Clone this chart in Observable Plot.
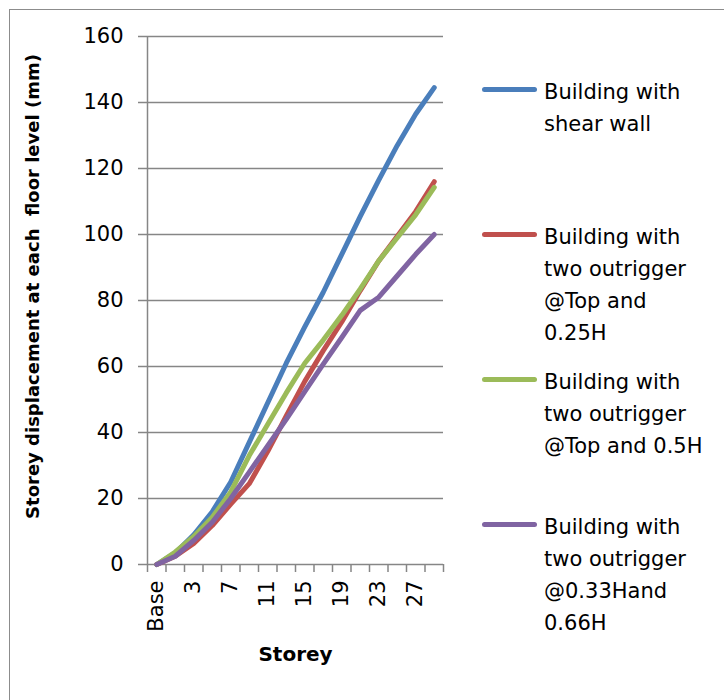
<!DOCTYPE html>
<html>
<head>
<meta charset="utf-8">
<script src="https://cdn.jsdelivr.net/npm/d3@7"></script>
<script src="https://cdn.jsdelivr.net/npm/@observablehq/plot@0.6"></script>
<style>
  html, body { margin: 0; padding: 0; background: #fff; }
  #wrap { position: relative; width: 724px; height: 700px; overflow: hidden; font-family: "DejaVu Sans", sans-serif; }
  #frame { position: absolute; left: 9px; top: 9px; width: 740px; height: 720px; border: 1.5px solid #8c8c8c; box-sizing: border-box; }
  #chart { position: absolute; left: 0; top: 0; }
  .lg-sw { position: absolute; height: 5px; border-radius: 3px; }
  .lg-tx { position: absolute; font-size: 21px; line-height: 32px; color: #000; white-space: nowrap; }
</style>
</head>
<body>
<div id="wrap">
  <div id="frame"></div>
  <div id="chart"></div>
</div>
<script>
// ---- data ----
const categories = ["Base","1","3","5","7","9","11","13","15","17","19","21","23","25","27","29"];
const seriesNames = [
  "Building with shear wall",
  "Building with two outrigger @Top and 0.25H",
  "Building with two outrigger @Top and 0.5H",
  "Building with two outrigger @0.33Hand 0.66H"
];
const legendLines = [
  ["Building with", "shear wall"],
  ["Building with", "two outrigger", "@Top and", "0.25H"],
  ["Building with", "two outrigger", "@Top and 0.5H"],
  ["Building with", "two outrigger", "@0.33Hand", "0.66H"]
];
const seriesColors = ["#4a7ebb", "#c0504d", "#9bbb59", "#8064a2"];
const shearWall   = [0, 3.5, 9,   16,   25,   37,   49,   61,   72,   82.5, 94,   105.5, 116.5, 127,  136.5, 144.5];
const outTop025   = [0, 2.5, 6.4, 11.8, 18.3, 24.5, 34.3, 45,   55.5, 64.8, 73.5, 83,    92,    99.5, 107,   116];
const outTop05    = [0, 3.8, 8.5, 14.3, 22,   33,   42.5, 52,   61,   68,   75.5, 83.5,  92,    99,   106,   114.3];
const out033066   = [0, 2.5, 7.3, 12.8, 20,   28,   36,   44,   52.4, 60.7, 68.8, 77,    81,    87.5, 94,    100];
const yTicks = [0, 20, 40, 60, 80, 100, 120, 140, 160];
const xLabelIdx = [0, 2, 4, 6, 8, 10, 12, 14];
const yTitle = "Storey displacement at each  floor level (mm)";
const xTitle = "Storey";

const allValues = [shearWall, outTop025, outTop05, out033066];
const rows = allValues.flatMap((vals, s) => vals.map((v, i) => ({ i, v, name: seriesNames[s] })));
const boundaries = d3.range(categories.length + 1).map(k => k - 0.5);

const grid = "#868686";
const chart = Plot.plot({
  width: 724,
  height: 700,
  marginLeft: 147,
  marginRight: 281,
  marginTop: 36,
  marginBottom: 136,
  style: { fontFamily: "DejaVu Sans, sans-serif", fontSize: "21px", color: "#000", background: "transparent" },
  x: { domain: [-0.5, categories.length - 0.5], axis: null },
  y: { domain: [0, 160], axis: null },
  color: { domain: seriesNames, range: seriesColors },
  marks: [
    Plot.ruleY(yTicks, { stroke: grid, strokeWidth: 1.5 }),
    Plot.ruleX([-0.5], { stroke: grid, strokeWidth: 1.5 }),
    Plot.axisY({ ticks: yTicks, tickSize: 9, tickPadding: 15, label: null, stroke: grid, strokeWidth: 1.5, fill: "#000", fontSize: 21 }),
    Plot.axisX({ ticks: boundaries, tickSize: 8, tickFormat: () => "", label: null, stroke: grid, strokeWidth: 1.5 }),
    Plot.axisX({ ticks: xLabelIdx, tickSize: 0, tickPadding: 16, tickRotate: -90, tickFormat: i => categories[i], label: null, fill: "#000", fontSize: 21 }),
    Plot.line(rows, { x: "i", y: "v", z: "name", stroke: "name", strokeWidth: 5, strokeLinecap: "round", strokeLinejoin: "round" }),
    Plot.text([yTitle], { frameAnchor: "left", textAnchor: "middle", dx: -114, dy: -14, rotate: -90, fontWeight: "bold", fontSize: 18, fill: "#000" }),
    Plot.text([xTitle], { frameAnchor: "bottom", textAnchor: "middle", dy: 96, fontWeight: "bold", fontSize: 20, fill: "#000" })
  ]
});
document.getElementById("chart").appendChild(chart);

// ---- legend (HTML overlay) ----
const wrap = document.getElementById("wrap");
const entryTops = [76, 221, 366, 511];
legendLines.forEach((lines, s) => {
  const sw = document.createElement("div");
  sw.className = "lg-sw";
  sw.style.left = "482px";
  sw.style.width = "55px";
  sw.style.top = (entryTops[s] + 11) + "px";
  sw.style.background = seriesColors[s];
  wrap.appendChild(sw);
  const tx = document.createElement("div");
  tx.className = "lg-tx";
  tx.style.left = "544px";
  tx.style.top = entryTops[s] + "px";
  tx.innerHTML = lines.map(l => l.replace(/&/g, "&amp;").replace(/</g, "&lt;")).join("<br>");
  wrap.appendChild(tx);
});
</script>
</body>
</html>
